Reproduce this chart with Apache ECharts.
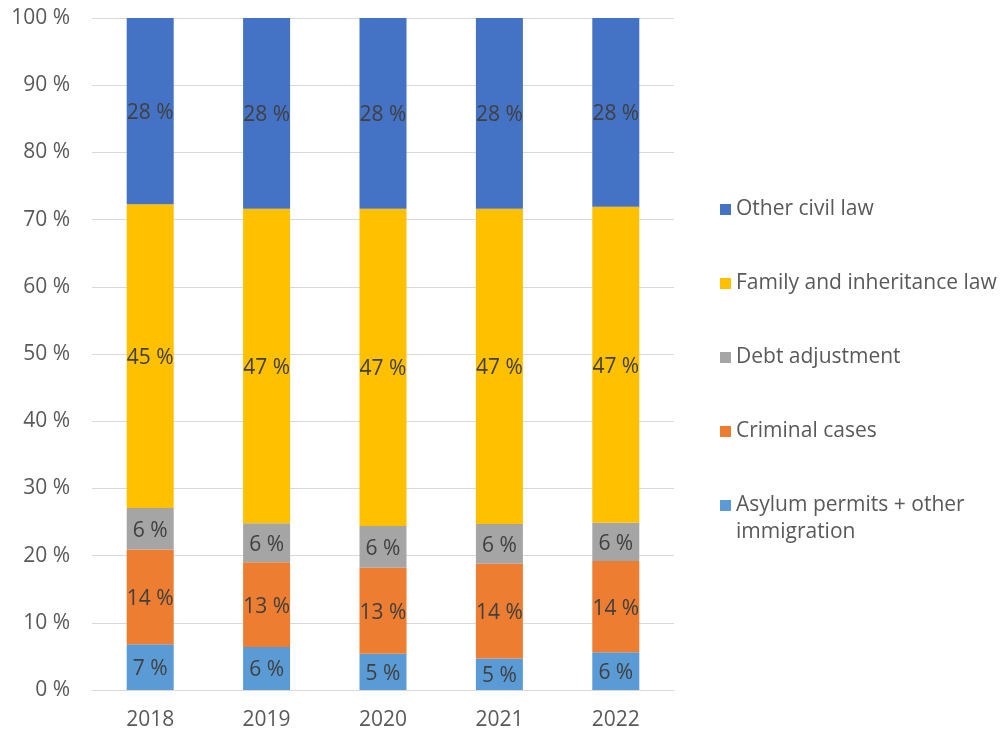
<!DOCTYPE html>
<html>
<head>
<meta charset="utf-8">
<script src="https://cdn.jsdelivr.net/npm/echarts@6/dist/echarts.min.js"></script>
<style>
  html, body { margin: 0; padding: 0; background: #fff; }
  #chart { width: 1001px; height: 735px; }
</style>
</head>
<body>
<div id="chart"></div>
<script>
// Share of cases per year (percent), stacked from the bottom up
const years = ['2018', '2019', '2020', '2021', '2022'];
const asylum = [6.8, 6.4, 5.4, 4.7, 5.6];
const criminal = [14.1, 12.6, 12.8, 14.1, 13.6];
const debt = [6.2, 5.8, 6.2, 5.9, 5.7];
const family = [45.2, 46.8, 47.2, 46.9, 47.0];
const otherCivil = [27.7, 28.4, 28.4, 28.4, 28.1];
const yTicks = [0, 10, 20, 30, 40, 50, 60, 70, 80, 90, 100];

const FONT = '"Open Sans", "Noto Sans", sans-serif';
const FS = 21;
const TEXT_GRAY = '#595959';
const ASYLUM = 'Asylum permits + other immigration';

const seriesDefs = [
  { name: ASYLUM, data: asylum, color: '#5B9BD5' },
  { name: 'Criminal cases', data: criminal, color: '#ED7D31' },
  { name: 'Debt adjustment', data: debt, color: '#A5A5A5' },
  { name: 'Family and inheritance law', data: family, color: '#FFC000' },
  { name: 'Other civil law', data: otherCivil, color: '#4472C4' }
];

const chart = echarts.init(document.getElementById('chart'), null, { renderer: 'canvas' });

chart.setOption({
  animation: false,
  backgroundColor: '#ffffff',
  grid: { left: 92, right: 327, top: 18, bottom: 45, containLabel: false },
  legend: {
    orient: 'vertical',
    left: 715,
    top: 191,
    itemWidth: 11,
    itemHeight: 11,
    itemGap: 47,
    icon: 'rect',
    textStyle: { fontFamily: FONT, fontSize: FS, color: TEXT_GRAY, lineHeight: 27 },
    data: ['Other civil law', 'Family and inheritance law', 'Debt adjustment', 'Criminal cases', ASYLUM],
    // long legend entry: first line here, continuation drawn below
    formatter: function (name) {
      return name === ASYLUM ? 'Asylum permits + other' : name;
    }
  },
  graphic: [{
    type: 'text',
    x: 736,
    y: 532,
    silent: true,
    style: {
      text: 'immigration',
      fontFamily: FONT,
      fontSize: FS,
      fill: TEXT_GRAY,
      verticalAlign: 'middle',
      align: 'left'
    }
  }],
  xAxis: {
    type: 'category',
    data: years,
    axisLine: { lineStyle: { color: '#D9D9D9', width: 1 } },
    axisTick: { show: false },
    axisLabel: { fontFamily: FONT, fontSize: FS, color: TEXT_GRAY, margin: 20 }
  },
  yAxis: {
    type: 'value',
    min: yTicks[0],
    max: yTicks[yTicks.length - 1],
    interval: 10,
    axisLine: { show: false },
    axisTick: { show: false },
    splitLine: { lineStyle: { color: '#D9D9D9', width: 1 } },
    axisLabel: {
      fontFamily: FONT, fontSize: FS, color: TEXT_GRAY, margin: 22,
      formatter: function (v) { return v + ' %'; }
    }
  },
  series: seriesDefs.map(function (s) {
    return {
      name: s.name,
      type: 'bar',
      stack: 'total',
      barWidth: 47,
      data: s.data,
      itemStyle: { color: s.color },
      label: {
        show: true,
        position: 'inside',
        offset: [0, 2],
        fontFamily: FONT,
        fontSize: FS,
        color: '#404040',
        formatter: function (p) { return Math.round(p.value) + ' %'; }
      }
    };
  })
});
</script>
</body>
</html>
